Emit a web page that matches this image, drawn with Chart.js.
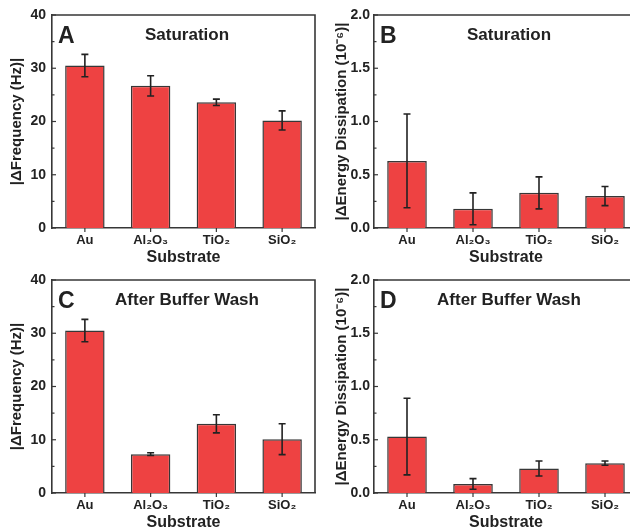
<!DOCTYPE html>
<html>
<head>
<meta charset="utf-8">
<script src="https://cdn.jsdelivr.net/npm/chart.js@4"></script>
<style>
  html, body { margin: 0; padding: 0; background: #fff; overflow: hidden; width: 630px; height: 531px; }
  .panel { position: absolute; }
</style>
</head>
<body>
<div class="panel" id="pA" style="left:0;top:0;width:318px;height:266px"><canvas id="cA"></canvas></div>
<div class="panel" id="pB" style="left:315px;top:0;width:325px;height:266px"><canvas id="cB"></canvas></div>
<div class="panel" id="pC" style="left:0;top:265px;width:318px;height:266px"><canvas id="cC"></canvas></div>
<div class="panel" id="pD" style="left:315px;top:265px;width:325px;height:266px"><canvas id="cD"></canvas></div>
<script>
const substrates = ["Au", "Al\u2082O\u2083", "TiO\u2082", "SiO\u2082"];

// saturation
const satFreq = [30.5, 26.7, 23.6, 20.2];
const satFreqErr = [2.1, 1.9, 0.6, 1.8];
const satDiss = [0.63, 0.18, 0.33, 0.30];
const satDissErr = [0.44, 0.15, 0.15, 0.09];

// after buffer wash
const washFreq = [30.5, 7.3, 13.0, 10.1];
const washFreqErr = [2.1, 0.25, 1.7, 2.9];
const washDiss = [0.53, 0.085, 0.23, 0.28];
const washDissErr = [0.36, 0.05, 0.07, 0.02];

const freqTicks = { min: 0, max: 40, step: 5, major: 10 };
const dissTicks = { min: 0, max: 2, step: 0.25, major: 0.5 };

const FONT = "Arial, 'Liberation Sans', sans-serif";
const INK = "rgb(34,34,34)";
const LINE = "rgb(55,55,55)";
Chart.defaults.font.family = FONT;
Chart.defaults.color = INK;

// error bars, ticks, frame and panel labels
const decorPlugin = {
  id: "decor",
  afterDatasetsDraw(chart) {
    const ctx = chart.ctx;
    const meta = chart.getDatasetMeta(0);
    const y = chart.scales.y;
    const errs = chart.options.plugins.decor.err;
    const vals = chart.data.datasets[0].data;
    ctx.save();
    ctx.strokeStyle = INK;
    ctx.lineWidth = 1.6;
    meta.data.forEach((bar, i) => {
      const hi = y.getPixelForValue(vals[i] + errs[i]);
      const lo = y.getPixelForValue(vals[i] - errs[i]);
      ctx.beginPath();
      ctx.moveTo(bar.x, hi);
      ctx.lineTo(bar.x, lo);
      ctx.moveTo(bar.x - 3.5, hi);
      ctx.lineTo(bar.x + 3.5, hi);
      ctx.moveTo(bar.x - 3.5, lo);
      ctx.lineTo(bar.x + 3.5, lo);
      ctx.stroke();
    });
    ctx.restore();
  },
  afterDraw(chart) {
    const ctx = chart.ctx;
    const area = chart.chartArea;
    const y = chart.scales.y;
    const opts = chart.options.plugins.decor;
    ctx.save();
    ctx.strokeStyle = LINE;
    ctx.lineWidth = 1.6;
    // frame top + right
    ctx.beginPath();
    ctx.moveTo(area.left, area.top);
    ctx.lineTo(area.right, area.top);
    ctx.lineTo(area.right, area.bottom);
    ctx.stroke();
    // y ticks, inward
    ctx.lineWidth = 1.2;
    y.ticks.forEach((t) => {
      const py = y.getPixelForValue(t.value);
      const isMajor = Math.abs(t.value / opts.major - Math.round(t.value / opts.major)) < 1e-6;
      ctx.beginPath();
      ctx.moveTo(area.left - (isMajor ? 1 : 0), py);
      ctx.lineTo(area.left + (isMajor ? 4 : 2.5), py);
      ctx.stroke();
    });
    // x ticks, outward
    chart.getDatasetMeta(0).data.forEach((bar) => {
      ctx.beginPath();
      ctx.moveTo(bar.x, area.bottom);
      ctx.lineTo(bar.x, area.bottom + 4);
      ctx.stroke();
    });
    // panel letter and title
    ctx.fillStyle = INK;
    ctx.textBaseline = "alphabetic";
    ctx.textAlign = "left";
    ctx.font = "bold 23px " + FONT;
    ctx.fillText(opts.letter, area.left + 6, area.top + 28);
    ctx.textAlign = "center";
    ctx.font = "bold 17px " + FONT;
    ctx.fillText(opts.title, area.left + 135, area.top + 25);
    ctx.restore();
  },
};

function makePanel(canvasId, values, errs, range, letter, title, yTitle, yWidth, yPad, yTitlePad, rightPad) {
  return new Chart(document.getElementById(canvasId), {
    type: "bar",
    data: {
      labels: substrates,
      datasets: [
        {
          data: values,
          backgroundColor: "rgb(238,66,66)",
          borderColor: LINE,
          borderWidth: 1.5,
          borderSkipped: "bottom",
          barPercentage: 0.6,
          categoryPercentage: 1,
        },
      ],
    },
    options: {
      animation: false,
      responsive: true,
      maintainAspectRatio: false,
      layout: { padding: { top: 15, left: 0, right: rightPad, bottom: 0 } },
      plugins: {
        legend: { display: false },
        tooltip: { enabled: false },
        decor: { err: errs, major: range.major, letter: letter, title: title },
      },
      scales: {
        x: {
          offset: true,
          grid: { display: false, drawTicks: false },
          border: { display: true, color: LINE, width: 1.6 },
          ticks: { font: { size: 13, weight: "bold" }, color: INK, padding: 5, maxRotation: 0 },
          title: {
            display: true,
            text: "Substrate",
            font: { size: 16, weight: "bold", lineHeight: 1 },
            color: INK,
            padding: 0,
          },
          afterFit(scale) {
            scale.height = 38;
          },
        },
        y: {
          min: range.min,
          max: range.max,
          grid: { display: false, drawTicks: false },
          border: { display: true, color: LINE, width: 1.6 },
          ticks: {
            stepSize: range.step,
            autoSkip: false,
            padding: yPad,
            font: { size: 14, weight: "bold" },
            color: INK,
            callback(v) {
              const r = v / range.major;
              if (Math.abs(r - Math.round(r)) > 1e-6) return "";
              return range.major < 1 ? v.toFixed(1) : String(v);
            },
          },
          title: {
            display: true,
            text: yTitle,
            font: { size: 15, weight: "bold" },
            color: INK,
            padding: { top: yTitlePad, bottom: 0 },
          },
          afterFit(scale) {
            scale.width = yWidth;
          },
        },
      },
    },
    plugins: [decorPlugin],
  });
}

const freqTitle = "|\u0394Frequency (Hz)|";
const dissTitle = "|\u0394Energy Dissipation (10\u207B\u2076)|";

makePanel("cA", satFreq, satFreqErr, freqTicks, "A", "Saturation", freqTitle, 52, 6, 8, 3);
makePanel("cB", satDiss, satDissErr, dissTicks, "B", "Saturation", dissTitle, 59, 4, 18, 2);
makePanel("cC", washFreq, washFreqErr, freqTicks, "C", "After Buffer Wash", freqTitle, 52, 6, 8, 3);
makePanel("cD", washDiss, washDissErr, dissTicks, "D", "After Buffer Wash", dissTitle, 59, 4, 18, 2);
</script>
</body>
</html>
